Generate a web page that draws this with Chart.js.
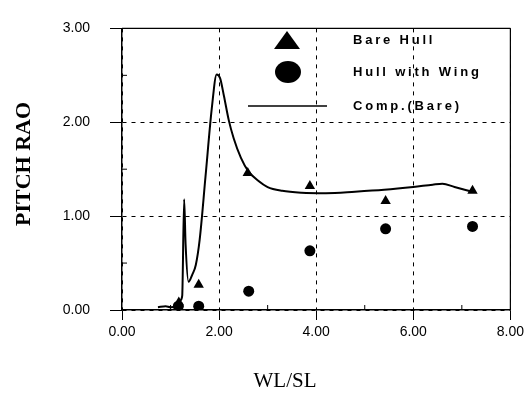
<!DOCTYPE html>
<html>
<head>
<meta charset="utf-8">
<script src="https://cdn.jsdelivr.net/npm/chart.js@4"></script>
<style>
  html, body { margin: 0; padding: 0; background: #fff; }
  #wrap { width: 528px; height: 396px; position: relative; }
</style>
</head>
<body>
<div id="wrap"><canvas id="raoChart" width="528" height="396"></canvas></div>
<script>
// measured points
const bareX = [1.17, 1.58, 2.59, 3.87, 5.43, 7.22];
const bareY = [0.08, 0.27, 1.46, 1.32, 1.16, 1.27];
const wingX = [1.16, 1.58, 2.61, 3.87, 5.43, 7.22];
const wingY = [0.04, 0.04, 0.20, 0.63, 0.865, 0.89];
// computed curve (bare hull)
const compX = [0.74, 0.9, 1.0, 1.12, 1.2, 1.24, 1.28, 1.31, 1.37, 1.45, 1.52, 1.6, 1.72, 1.85, 1.95, 2.02, 2.1, 2.2, 2.3, 2.45, 2.6, 2.8, 3.0, 3.3, 3.7, 4.2, 4.8, 5.4, 6.0, 6.4, 6.6, 6.85, 7.22];
const compY = [0.03, 0.04, 0.03, 0.04, 0.10, 0.15, 1.18, 0.70, 0.30, 0.38, 0.48, 0.75, 1.42, 2.15, 2.51, 2.47, 2.28, 2.02, 1.83, 1.62, 1.48, 1.38, 1.31, 1.27, 1.25, 1.245, 1.26, 1.28, 1.31, 1.335, 1.345, 1.31, 1.26];
const xTicks = [0, 2, 4, 6, 8];
const yTicks = [0, 1, 2, 3];
const xMinor = [1, 3, 5, 7];
const yMinor = [0.5, 1.5, 2.5];
const xTitle = 'WL/SL';
const yTitle = 'PITCH RAO';

const toPts = (xs, ys) => xs.map((x, i) => ({ x: x, y: ys[i] }));

// frame, minor ticks, titles and the in-plot legend
const extras = {
  id: 'extras',
  afterDraw(chart) {
    const ctx = chart.ctx;
    const a = chart.chartArea;
    const xs = chart.scales.x, ys = chart.scales.y;
    ctx.save();
    ctx.strokeStyle = '#000';
    ctx.lineWidth = 1.2;
    ctx.beginPath();
    ctx.moveTo(a.left, a.top); ctx.lineTo(a.right, a.top);
    ctx.moveTo(a.right, a.top); ctx.lineTo(a.right, a.bottom);
    ctx.stroke();

    ctx.lineWidth = 1;
    ctx.beginPath();
    xMinor.forEach(v => {
      const px = xs.getPixelForValue(v);
      ctx.moveTo(px, a.bottom); ctx.lineTo(px, a.bottom - 5);
    });
    yMinor.forEach(v => {
      const py = ys.getPixelForValue(v);
      ctx.moveTo(a.left, py); ctx.lineTo(a.left + 5, py);
    });
    ctx.stroke();

    ctx.fillStyle = '#000';
    ctx.textAlign = 'center';
    ctx.textBaseline = 'middle';
    ctx.font = '21px "Liberation Serif", "Times New Roman", serif';
    ctx.fillText(xTitle, 285, 381);
    ctx.save();
    ctx.translate(24, 164);
    ctx.rotate(-Math.PI / 2);
    ctx.font = 'bold 22px "Liberation Serif", "Times New Roman", serif';
    ctx.fillText(yTitle, 0, 0);
    ctx.restore();

    // legend
    const ds = chart.data.datasets;
    ctx.beginPath();
    ctx.moveTo(287, 31); ctx.lineTo(300, 49); ctx.lineTo(274, 49);
    ctx.closePath();
    ctx.fill();
    ctx.beginPath();
    ctx.ellipse(288, 72, 13, 11, 0, 0, Math.PI * 2);
    ctx.fill();
    ctx.lineWidth = 1.5;
    ctx.beginPath();
    ctx.moveTo(248, 106); ctx.lineTo(327, 106);
    ctx.stroke();
    ctx.textAlign = 'left';
    ctx.font = 'bold 13px "Liberation Sans", Arial, sans-serif';
    ctx.letterSpacing = '2.8px';
    ctx.fillText(ds[0].label, 353, 40);
    ctx.fillText(ds[1].label, 353, 72);
    ctx.fillText(ds[2].label, 353, 106);
    ctx.restore();
  }
};

const ctx = document.getElementById('raoChart').getContext('2d');
const raoChart = new Chart(ctx, {
  type: 'scatter',
  data: {
    datasets: [{
      label: 'Bare Hull',
      data: toPts(bareX, bareY),
      pointStyle: 'triangle',
      pointRadius: 6,
      backgroundColor: '#000',
      borderColor: '#000',
      borderWidth: 0
    }, {
      label: 'Hull with Wing',
      data: toPts(wingX, wingY),
      pointStyle: 'circle',
      pointRadius: 5.5,
      backgroundColor: '#000',
      borderColor: '#000',
      borderWidth: 0
    }, {
      label: 'Comp.(Bare)',
      type: 'line',
      data: toPts(compX, compY),
      showLine: true,
      pointRadius: 0,
      borderColor: '#000',
      borderWidth: 2,
      tension: 0,
      cubicInterpolationMode: 'monotone',
      fill: false
    }]
  },
  options: {
    responsive: false,
    animation: false,
    layout: {
      autoPadding: false,
      padding: { left: 0, right: 12, top: 14, bottom: 0 }
    },
    plugins: {
      legend: { display: false },
      tooltip: { enabled: false }
    },
    scales: {
      x: {
        type: 'linear',
        min: 0,
        max: 8,
        afterBuildTicks: s => { s.ticks = xTicks.map(v => ({ value: v })); },
        afterFit: s => { s.height = 86; },
        ticks: {
          padding: 4,
          color: '#000',
          font: { family: '"Liberation Sans", Arial, sans-serif', size: 14 },
          callback: v => Number(v).toFixed(2)
        },
        grid: {
          color: '#000',
          lineWidth: 1,
          tickLength: 10,
          tickColor: '#000'
        },
        border: { display: true, color: '#000', width: 1.5, dash: [4, 5] }
      },
      y: {
        type: 'linear',
        min: 0,
        max: 3,
        afterBuildTicks: s => { s.ticks = yTicks.map(v => ({ value: v })); },
        afterFit: s => { s.width = 122; },
        ticks: {
          padding: 20,
          color: '#000',
          font: { family: '"Liberation Sans", Arial, sans-serif', size: 14 },
          callback: v => Number(v).toFixed(2)
        },
        grid: {
          color: '#000',
          lineWidth: 1,
          tickLength: 12,
          tickColor: '#000'
        },
        border: { display: true, color: '#000', width: 1.5, dash: [4, 5] }
      }
    }
  },
  plugins: [extras]
});
</script>
</body>
</html>
